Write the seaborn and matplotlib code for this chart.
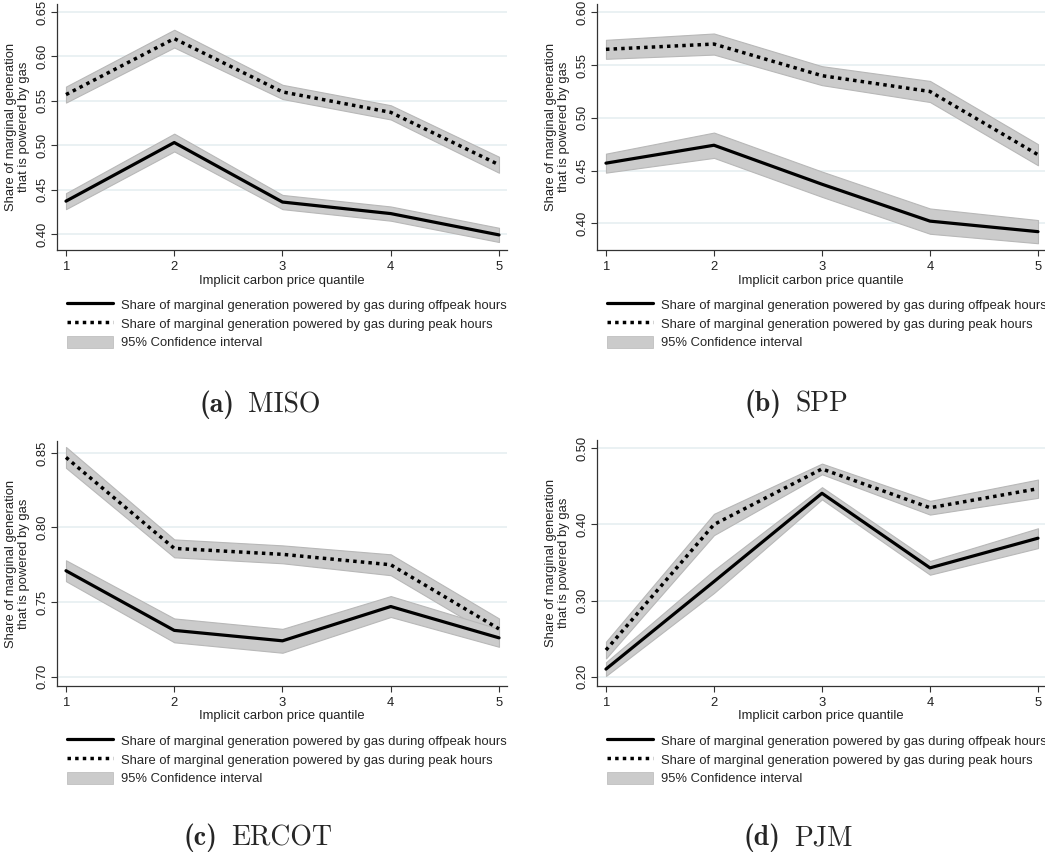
import numpy as np
import pandas as pd
import matplotlib
matplotlib.use("Agg")
import matplotlib.pyplot as plt
from matplotlib.lines import Line2D
from matplotlib.patches import Patch
from matplotlib.font_manager import FontProperties
from matplotlib.offsetbox import TextArea, HPacker, AnchoredOffsetbox
import seaborn as sns
import os

# Quantiles de prix implicite du carbone
quantiles = [1, 2, 3, 4, 5]

# Parts estimées + demi-largeur de l'IC 95%
miso_peak = [0.557, 0.620, 0.560, 0.537, 0.478]
miso_peak_ci = [0.009, 0.010, 0.008, 0.008, 0.009]
miso_off = [0.437, 0.503, 0.436, 0.423, 0.399]
miso_off_ci = [0.009, 0.010, 0.008, 0.008, 0.008]

spp_peak = [0.565, 0.570, 0.540, 0.525, 0.465]
spp_peak_ci = [0.009, 0.010, 0.009, 0.010, 0.010]
spp_off = [0.457, 0.474, 0.437, 0.402, 0.392]
spp_off_ci = [0.009, 0.012, 0.012, 0.012, 0.011]

ercot_peak = [0.847, 0.786, 0.782, 0.775, 0.732]
ercot_peak_ci = [0.007, 0.006, 0.006, 0.007, 0.007]
ercot_off = [0.771, 0.731, 0.724, 0.747, 0.726]
ercot_off_ci = [0.007, 0.008, 0.008, 0.007, 0.006]

pjm_peak = [0.235, 0.400, 0.473, 0.422, 0.447]
pjm_peak_ci = [0.011, 0.014, 0.007, 0.009, 0.012]
pjm_off = [0.210, 0.325, 0.441, 0.343, 0.382]
pjm_off_ci = [0.009, 0.015, 0.008, 0.009, 0.013]

panels = [
    ("(a)", "MISO", miso_peak, miso_peak_ci, miso_off, miso_off_ci,
     [0.40, 0.45, 0.50, 0.55, 0.60, 0.65], (0.382, 0.659)),
    ("(b)", "SPP", spp_peak, spp_peak_ci, spp_off, spp_off_ci,
     [0.40, 0.45, 0.50, 0.55, 0.60], (0.3746, 0.608)),
    ("(c)", "ERCOT", ercot_peak, ercot_peak_ci, ercot_off, ercot_off_ci,
     [0.70, 0.75, 0.80, 0.85], (0.6937, 0.858)),
    ("(d)", "PJM", pjm_peak, pjm_peak_ci, pjm_off, pjm_off_ci,
     [0.20, 0.30, 0.40, 0.50], (0.1878, 0.511)),
]

# positions des axes en pixels (gauche, haut, droite, bas) + centre des légendes
W, H = 1045, 859
boxes = [(57, 4, 507, 250), (597, 4, 1045, 250),
         (57, 441, 507, 686), (597, 440, 1045, 686)]
xlims = [(0.917, 5.074), (0.917, 5.065), (0.917, 5.074), (0.917, 5.065)]
captions_xy = [(260, 405), (796, 404), (258, 838), (798, 838)]

sns.set_style("white")
plt.rcParams["font.family"] = ["Liberation Sans", "DejaVu Sans"]

ttf_dir = os.path.join(matplotlib.get_data_path(), "fonts", "ttf")
cm_bold = FontProperties(fname=os.path.join(ttf_dir, "cmb10.ttf"), size=20)
cm_roman = FontProperties(fname=os.path.join(ttf_dir, "cmr10.ttf"), size=20)

fig = plt.figure(figsize=(W / 100, H / 100), dpi=100)

band_col = "#cbcbcb"
band_edge = "#b8b8b8"
lab_off = "Share of marginal generation powered by gas during offpeak hours"
lab_peak = "Share of marginal generation powered by gas during peak hours"
fs = 9.4

for (tag, name, peak, peak_ci, off, off_ci, yt, ylim), (l, t, r, b), xl, (cx, cy) in zip(
        panels, boxes, xlims, captions_xy):
    ax = fig.add_axes([l / W, 1 - b / H, (r - l) / W, (b - t) / H])
    df = pd.DataFrame({"q": quantiles * 2,
                       "share": peak + off,
                       "serie": ["peak"] * 5 + ["offpeak"] * 5})
    peak_a, pci = np.array(peak), np.array(peak_ci)
    off_a, oci = np.array(off), np.array(off_ci)
    ax.fill_between(quantiles, peak_a - pci, peak_a + pci, color=band_col,
                    edgecolor=band_edge, lw=0.8, zorder=1)
    ax.fill_between(quantiles, off_a - oci, off_a + oci, color=band_col,
                    edgecolor=band_edge, lw=0.8, zorder=1)
    sns.lineplot(data=df[df.serie == "offpeak"], x="q", y="share", ax=ax,
                 color="black", lw=2.3, legend=False, zorder=3)
    sns.lineplot(data=df[df.serie == "peak"], x="q", y="share", ax=ax,
                 color="black", lw=2.5, legend=False, zorder=3)
    ax.lines[-1].set_linestyle((0, (1, 1.2)))
    ax.lines[-1].set_dash_capstyle("butt")

    ax.set_xlim(*xl)
    ax.set_ylim(*ylim)
    ax.set_xticks(quantiles)
    ax.set_yticks(yt)
    ax.set_yticklabels([f"{v:.2f}" for v in yt], rotation=90, va="center")
    ax.yaxis.grid(True, color="#e6eff1", lw=1.2)
    ax.set_axisbelow(True)
    for s in ["top", "right"]:
        ax.spines[s].set_visible(False)
    for s in ["left", "bottom"]:
        ax.spines[s].set_color("#333333")
        ax.spines[s].set_linewidth(0.9)
    ax.tick_params(axis="both", which="major", length=4, width=0.8,
                   color="#333333", labelsize=fs, labelcolor="#222222",
                   direction="out", bottom=True, left=True)
    ax.tick_params(axis="x", pad=4)
    ax.tick_params(axis="y", pad=2)
    ax.set_xlabel("Implicit carbon price quantile", fontsize=fs,
                  color="#222222", labelpad=1)
    ax.set_ylabel("Share of marginal generation\nthat is powered by gas",
                  fontsize=fs, color="#222222", labelpad=5, linespacing=1.05)

    handles = [Line2D([], [], color="black", lw=2.3),
               Line2D([], [], color="black", lw=2.5, linestyle=(0, (1, 1.2))),
               Patch(facecolor=band_col, edgecolor=band_edge, lw=0.5)]
    fig.legend(handles, [lab_off, lab_peak, "95% Confidence interval"],
               loc="upper left", bbox_to_anchor=((l + 10) / W, 1 - (b + 48) / H),
               bbox_transform=fig.transFigure,
               frameon=False, fontsize=fs, handlelength=3.55, handleheight=1.05,
               handletextpad=0.6, labelspacing=0.42, borderaxespad=0, borderpad=0)

    # légende de sous-figure, style LaTeX
    cap = HPacker(children=[TextArea(tag, textprops=dict(fontproperties=cm_bold)),
                            TextArea(name, textprops=dict(fontproperties=cm_roman))],
                  align="baseline", pad=0, sep=10)
    anc = AnchoredOffsetbox(loc="center", child=cap, frameon=False, pad=0,
                            bbox_to_anchor=(cx / W, 1 - cy / H),
                            bbox_transform=fig.transFigure, borderpad=0)
    fig.add_artist(anc)

fig.savefig("out.png", dpi=100)
